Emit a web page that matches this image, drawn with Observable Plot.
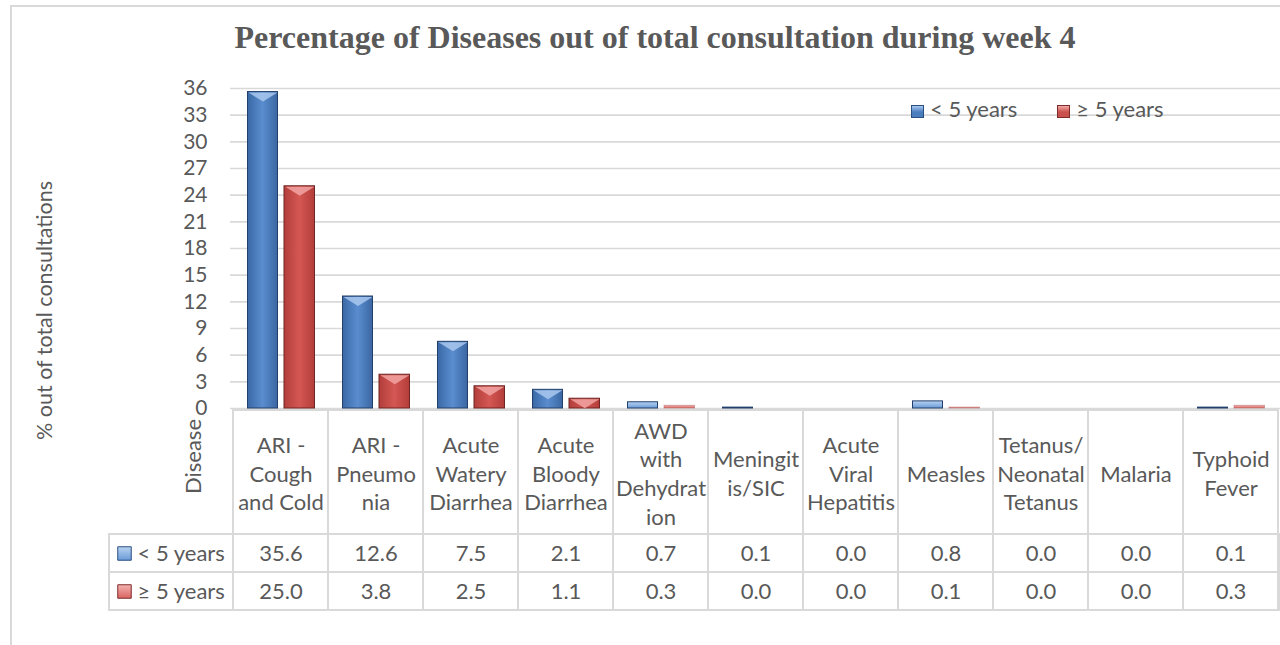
<!DOCTYPE html>
<html><head><meta charset="utf-8">
<script src="https://cdn.jsdelivr.net/npm/d3@7"></script>
<script src="https://cdn.jsdelivr.net/npm/@observablehq/plot@0.6"></script>
<style>
body{margin:0;background:#fff;}
#root{position:relative;width:1280px;height:645px;overflow:hidden;font-family:Lato,sans-serif;color:#595959;}
#frame{position:absolute;left:10px;top:5px;width:1400px;height:800px;border:2px solid #d9d9d9;box-sizing:border-box;}
#title{position:absolute;left:0;width:1310px;top:21px;text-align:center;font:bold 32px "Liberation Serif";color:#595959;line-height:32px;white-space:nowrap;}
#legend{position:absolute;top:97px;left:911px;font:22px Lato;color:#595959;line-height:24px;white-space:nowrap;z-index:5;}
#legend span.item{display:inline-block;margin-right:40px;}
#legend i{display:inline-block;width:13px;height:13px;vertical-align:-1px;margin-right:6px;box-sizing:border-box;}
.pl{position:absolute;left:0;}
</style></head>
<body>
<svg width="0" height="0" style="position:absolute">
<defs>
<linearGradient id="gBlue" x1="0" x2="1" y1="0" y2="0">
<stop offset="0" stop-color="#3a68a5"/><stop offset="0.5" stop-color="#5a8dcf"/><stop offset="1" stop-color="#3b67a2"/>
</linearGradient>
<linearGradient id="gRed" x1="0" x2="1" y1="0" y2="0">
<stop offset="0" stop-color="#b23e3b"/><stop offset="0.5" stop-color="#d45753"/><stop offset="1" stop-color="#b33d3a"/>
</linearGradient>
<linearGradient id="gBlueL" x1="0" x2="0" y1="0" y2="1">
<stop offset="0" stop-color="#b9d3f2"/><stop offset="1" stop-color="#6a9bd8"/>
</linearGradient>
<linearGradient id="gRedL" x1="0" x2="0" y1="0" y2="1">
<stop offset="0" stop-color="#f5b3b1"/><stop offset="1" stop-color="#d96461"/>
</linearGradient>
</defs>
</svg>
<div id="root">
  <div id="frame"></div>
  <div id="title"></div>
  <div id="legend"></div>
</div>
<script>
// ---- data ----
const title = "Percentage of Diseases out of total consultation during week 4";
const yLabel = "% out of total consultations";
const rowHeader = "Disease";
const categories = ["ARI - Cough and Cold","ARI - Pneumonia","Acute Watery Diarrhea","Acute Bloody Diarrhea","AWD with Dehydration","Meningitis/SIC","Acute Viral Hepatitis","Measles","Tetanus/Neonatal Tetanus","Malaria","Typhoid Fever"];
const headerLabels = ["ARI -\nCough\nand Cold","ARI -\nPneumo\nnia","Acute\nWatery\nDiarrhea","Acute\nBloody\nDiarrhea","AWD\nwith\nDehydrat\nion","Meningit\nis/SIC","Acute\nViral\nHepatitis","Measles","Tetanus/\nNeonatal\nTetanus","Malaria","Typhoid\nFever"];
const series = ["< 5 years","≥ 5 years"];
const under5 = [35.6,12.6,7.5,2.1,0.7,0.1,0.0,0.8,0.0,0.0,0.1];
const over5  = [25.0,3.8,2.5,1.1,0.3,0.0,0.0,0.1,0.0,0.0,0.3];
const yTicks = [0,3,6,9,12,15,18,21,24,27,30,33,36];

// ---- build ----
const rows = [];
categories.forEach((c,i)=>{
  rows.push({category:c, series:series[0], value:under5[i]});
  rows.push({category:c, series:series[1], value:over5[i]});
});
const A = rows.filter(d=>d.series===series[0]);
const B = rows.filter(d=>d.series===series[1]);

const root = document.getElementById("root");
document.getElementById("title").textContent = title;

// legend
const lg = document.getElementById("legend");
[["#4a7dbd","#2a4f80"],["#c9504c","#7e2c2a"]].forEach((c,i)=>{
  const s = document.createElement("span"); s.className="item";
  const sq = document.createElement("i");
  sq.style.background = `linear-gradient(180deg, ${i? "#f3a9a7":"#a9c9f1"} 0%, ${c[0]} 55%)`;
  sq.style.border = `1px solid ${c[1]}`;
  s.appendChild(sq); s.appendChild(document.createTextNode(series[i]));
  lg.appendChild(s);
});

const font = {fontFamily:"Lato, sans-serif", fontSize:"22px", color:"#595959", background:"transparent", overflow:"visible"};
const xOpts = {domain:categories, padding:0, axis:null};

const tri = {draw(ctx){ ctx.moveTo(-14.5,0); ctx.lineTo(14.5,0); ctx.lineTo(0,9); ctx.closePath(); }};

// main chart
const main = Plot.plot({
  width:1280, height:420, marginTop:88, marginBottom:12, marginLeft:230, marginRight:0,
  style:{...font, fontSize:"21px"},
  x:xOpts,
  y:{domain:[0,36], ticks:yTicks, tickSize:0, tickPadding:23, label:null},
  marks:[
    Plot.ruleY(yTicks, {stroke:"#d9d9d9", strokeWidth:1.6}),
    Plot.barY(A.filter(d=>d.value>=1), {x:"category", y:"value", insetLeft:14.5, insetRight:50.5, fill:"url(#gBlue)", stroke:"#223f6b", strokeWidth:1}),
    Plot.barY(A.filter(d=>d.value>0 && d.value<1), {x:"category", y:"value", insetLeft:14.5, insetRight:50.5, fill:"url(#gBlueL)", stroke:"#223f6b", strokeWidth:1}),
    Plot.barY(B.filter(d=>d.value>=1), {x:"category", y:"value", insetLeft:51, insetRight:13.5, fill:"url(#gRed)", stroke:"#6e2523", strokeWidth:1}),
    Plot.barY(B.filter(d=>d.value>0 && d.value<1), {x:"category", y:"value", insetLeft:51, insetRight:13.5, fill:"url(#gRedL)", stroke:"#b06060", strokeWidth:1, strokeOpacity:0.5}),
    Plot.dot(A.filter(d=>d.value>=1), {x:"category", y:"value", dx:-18, dy:0.5, symbol:tri, fill:"#a9c8ef", fillOpacity:0.85, stroke:"none"}),
    Plot.dot(B.filter(d=>d.value>=1), {x:"category", y:"value", dx:18.8, dy:0.5, symbol:tri, fill:"#f2a5a3", fillOpacity:0.85, stroke:"none"}),
    Plot.text([yLabel], {frameAnchor:"left", textAnchor:"middle", dx:-185, dy:62, rotate:-90, fontSize:21.5, fill:"#595959"})
  ]
});
main.classList.add("pl"); main.style.top = "0px";
root.appendChild(main);

// table header
const head = Plot.plot({
  width:1280, height:128, marginTop:2, marginBottom:2, marginLeft:230, marginRight:0,
  style:font,
  x:xOpts,
  marks:[
    Plot.cell(categories, {x:d=>d, fill:"white", stroke:"#d9d9d9", strokeWidth:2, inset:0}),
    Plot.text(categories, {x:d=>d, text:(d,i)=>headerLabels[i], lineHeight:1.3, fill:"#595959"}),
    Plot.text([rowHeader], {frameAnchor:"left", textAnchor:"middle", dx:-37, dy:-16, rotate:-90, fill:"#595959"})
  ]
});
head.classList.add("pl"); head.style.top = "408px";
root.appendChild(head);

// table values
const body = Plot.plot({
  width:1280, height:80, marginTop:2, marginBottom:2, marginLeft:230, marginRight:0,
  style:font,
  x:xOpts,
  y:{domain:series, padding:0, axis:null},
  marks:[
    Plot.cell(series, {y:d=>d, fill:"white", stroke:"#d9d9d9", strokeWidth:2, insetLeft:-121, inset:0}),
    Plot.cell(rows, {x:"category", y:"series", fill:"white", stroke:"#d9d9d9", strokeWidth:2, inset:0}),
    Plot.text(rows, {x:"category", y:"series", text:d=>d.value.toFixed(1), fill:"#595959"}),
    Plot.dot([series[0]], {y:d=>d, frameAnchor:"left", dx:-106, symbol:"square", r:7.6, fill:"url(#gBlueL)", stroke:"#2a4f80", strokeWidth:1}),
    Plot.dot([series[1]], {y:d=>d, frameAnchor:"left", dx:-106, symbol:"square", r:7.6, fill:"url(#gRedL)", stroke:"#7e2c2a", strokeWidth:1}),
    Plot.text(series, {y:d=>d, text:d=>d, frameAnchor:"left", dx:-93, textAnchor:"start", fill:"#595959"})
  ]
});
body.classList.add("pl"); body.style.top = "532px";
root.appendChild(body);
</script>
</body></html>
